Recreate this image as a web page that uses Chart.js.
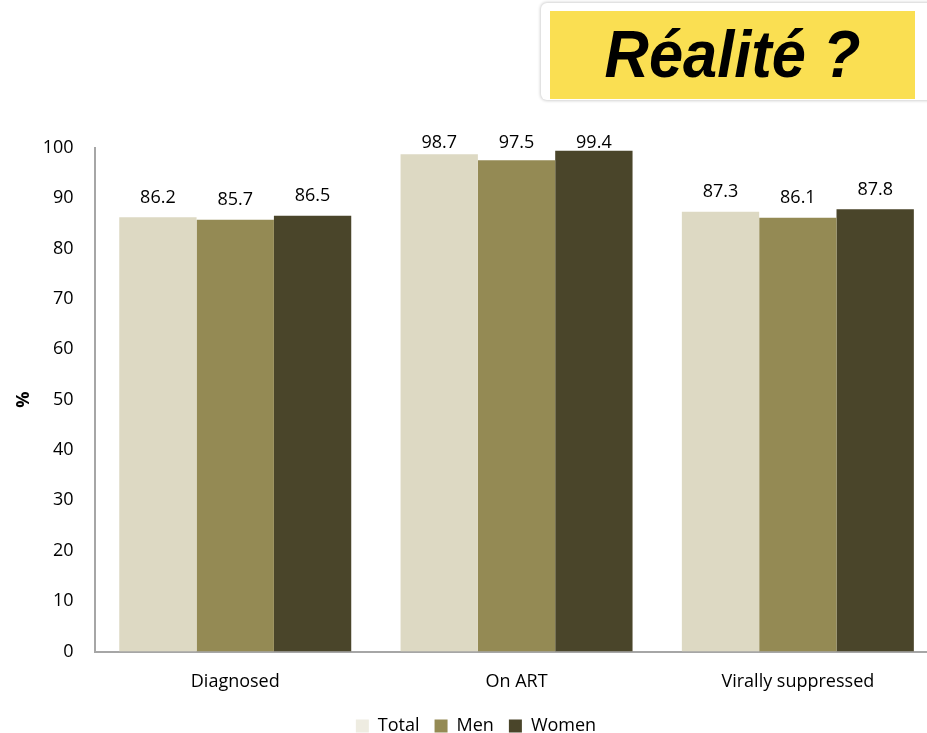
<!DOCTYPE html>
<html>
<head>
<meta charset="utf-8">
<script src="https://cdn.jsdelivr.net/npm/chart.js@4.4.1/dist/chart.umd.min.js"></script>
<style>
  html, body { margin: 0; padding: 0; width: 927px; height: 733px; overflow: hidden; background: #fff; }
  #wrap { position: absolute; left: 0; top: 0; width: 950px; height: 745px; }
  #frame { position: absolute; left: 541px; top: 3px; width: 420px; height: 97px; background: #fff;
           border-radius: 6px; box-shadow: 0 0 3px 1px rgba(0,0,0,0.18); }
  #banner { position: absolute; left: 550px; top: 11px; width: 365px; height: 88px; background: #FADF52; }
  #banner span { position: absolute; left: 0; right: 0; top: 10px; text-align: center; font-family: "Liberation Sans", sans-serif;
                 font-weight: bold; font-style: italic; font-size: 66px; line-height: 1; color: #000;
                 transform: scaleX(0.93); transform-origin: 50% 50%; white-space: nowrap; }
</style>
</head>
<body>
<div id="wrap"><canvas id="c"></canvas></div>
<div id="frame"></div>
<div id="banner"><span>Réalité ?</span></div>
<script>
const categories = ["Diagnosed", "On ART", "Virally suppressed"];
const seriesNames = ["Total", "Men", "Women"];
const totalValues = [86.2, 98.7, 87.3];
const menValues = [85.7, 97.5, 86.1];
const womenValues = [86.5, 99.4, 87.8];
const yTicks = [0, 10, 20, 30, 40, 50, 60, 70, 80, 90, 100];

const barColors = ["#DDD9C3", "#948A54", "#4A452A"];
const legendColors = ["#EEECE1", "#948A54", "#4A452A"];

Chart.defaults.font.family = "'Open Sans', sans-serif";
Chart.defaults.font.size = 18;
Chart.defaults.color = "#000";

const valueLabels = {
  id: "valueLabels",
  afterDatasetsDraw(chart) {
    const ctx = chart.ctx;
    ctx.save();
    ctx.font = "18px 'Open Sans', sans-serif";
    ctx.fillStyle = "#000";
    ctx.textAlign = "center";
    ctx.textBaseline = "alphabetic";
    const minBase = chart.chartArea.top + 0.6;
    chart.data.datasets.forEach((ds, i) => {
      const meta = chart.getDatasetMeta(i);
      meta.data.forEach((bar, j) => {
        const y = Math.max(bar.y - 14.5, minBase);
        ctx.fillText(ds.data[j].toFixed(1), bar.x, y);
      });
    });
    ctx.restore();
  }
};

new Chart(document.getElementById("c"), {
  type: "bar",
  data: {
    labels: categories,
    datasets: [
      { label: seriesNames[0], data: totalValues, backgroundColor: barColors[0] },
      { label: seriesNames[1], data: menValues, backgroundColor: barColors[1] },
      { label: seriesNames[2], data: womenValues, backgroundColor: barColors[2] }
    ]
  },
  options: {
    responsive: true,
    maintainAspectRatio: false,
    animation: false,
    datasets: { bar: { categoryPercentage: 0.8247, barPercentage: 1.0, borderWidth: 0 } },
    layout: { padding: { top: 147.7, left: 13.5, right: 11.5, bottom: 0 } },
    plugins: {
      tooltip: { enabled: false },
      legend: {
        position: "bottom",
        labels: {
          boxWidth: 13,
          boxHeight: 13,
          padding: 15,
          font: { size: 18 },
          generateLabels(chart) {
            const items = Chart.defaults.plugins.legend.labels.generateLabels(chart);
            items.forEach((it, i) => { it.fillStyle = legendColors[i]; it.strokeStyle = legendColors[i]; it.lineWidth = 0; });
            return items;
          }
        }
      }
    },
    scales: {
      x: {
        grid: { display: false, drawTicks: false },
        border: { display: true, color: "#A6A6A6", width: 2 },
        ticks: { padding: 20, font: { size: 18 } },
        afterFit(scale) { scale.height = 50.5; }
      },
      y: {
        min: 0,
        max: 100,
        afterBuildTicks(scale) { scale.ticks = yTicks.map(v => ({ value: v })); },
        grid: { display: false, drawTicks: false },
        border: { display: true, color: "#A6A6A6", width: 2 },
        ticks: { padding: 21, font: { size: 18 } },
        title: { display: true, text: "%", font: { size: 18, weight: "bold" }, padding: 0 },
        afterFit(scale) { scale.width = 81.1; }
      }
    }
  },
  plugins: [valueLabels]
});
</script>
</body>
</html>
